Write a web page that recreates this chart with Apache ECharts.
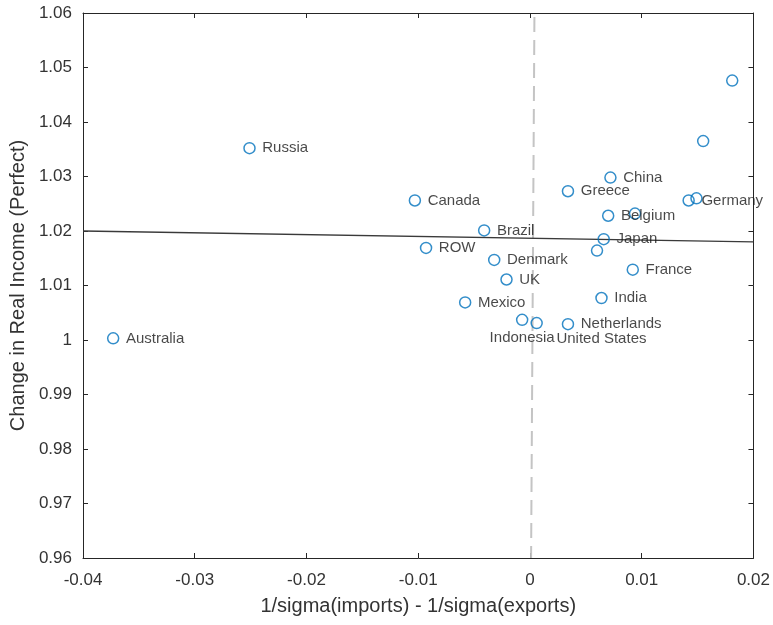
<!DOCTYPE html>
<html>
<head>
<meta charset="utf-8">
<script src="https://cdn.jsdelivr.net/npm/echarts@6/dist/echarts.min.js"></script>
<style>html,body{margin:0;padding:0;background:#fff}#c{width:773px;height:625px}</style>
</head>
<body>
<div id="c"></div>
<script>
// Data
const countryNames = ['Australia','Russia','Canada','Brazil','ROW','Denmark','UK','Mexico','Indonesia','United States','Netherlands','India','France','Japan','','Belgium','','Greece','China','Germany','','',''];
const sigmaDiff = [-0.0373,-0.0251,-0.0103,-0.0041,-0.0093,-0.0032,-0.0021,-0.0058,-0.0007,0.0006,0.0034,0.0064,0.0092,0.0066,0.0060,0.0070,0.0094,0.0034,0.0072,0.0142,0.0149,0.0155,0.0181];
const realIncome = [1.0003,1.0352,1.0256,1.0201,1.0169,1.0147,1.0111,1.0069,1.0037,1.0031,1.0029,1.0077,1.0129,1.0185,1.0164,1.0228,1.0232,1.0273,1.0298,1.0256,1.0260,1.0365,1.0476];
const fitX = [-0.04, 0.02];
const fitY = [1.0200, 1.0180];
const zeroLineX = [0.0004, 0.0001];
const zeroLineY = [1.06, 0.96];
const xTitle = '1/sigma(imports) - 1/sigma(exports)';
const yTitle = 'Change in Real Income (Perfect)';

const FONT = '"Liberation Sans", Arial, Helvetica, sans-serif';
const AX = '#262626';
const fmt = v => String(+(+v).toFixed(2));

const labelOverrides = {
  'Indonesia': { position: 'bottom', distance: 4, offset: [-2, 0] },
  'United States': { position: [26, 15], align: 'left', verticalAlign: 'top', offset: [0, 0] }
};

const pts = sigmaDiff.map((x, i) => {
  const item = { value: [x, realIncome[i], countryNames[i]] };
  if (labelOverrides[countryNames[i]]) item.label = labelOverrides[countryNames[i]];
  return item;
});

const baseX = {
  type: 'value', min: -0.04, max: 0.02, interval: 0.01,
  splitLine: { show: false },
  axisLine: { show: true, onZero: false, lineStyle: { color: AX, width: 1 } },
  axisTick: { show: true, inside: true, length: 5, lineStyle: { color: AX } }
};
const baseY = {
  type: 'value', min: 0.96, max: 1.06, interval: 0.01,
  splitLine: { show: false },
  axisLine: { show: true, onZero: false, lineStyle: { color: AX, width: 1 } },
  axisTick: { show: true, inside: true, length: 5, lineStyle: { color: AX } }
};

const chart = echarts.init(document.getElementById('c'));
chart.setOption({
  animation: false,
  backgroundColor: '#fff',
  grid: { left: 83, right: 19, top: 13, bottom: 67 },
  xAxis: [
    Object.assign({}, baseX, {
      position: 'bottom',
      axisLabel: { formatter: fmt, color: '#333', fontSize: 17, fontFamily: FONT, margin: 14 },
      name: xTitle, nameLocation: 'middle', nameGap: 38,
      nameTextStyle: { color: '#333', fontSize: 20, fontFamily: FONT }
    }),
    Object.assign({}, baseX, { position: 'top', axisLabel: { show: false } })
  ],
  yAxis: [
    Object.assign({}, baseY, {
      position: 'left',
      axisLabel: { formatter: fmt, color: '#333', fontSize: 17, fontFamily: FONT, margin: 11 },
      name: yTitle, nameLocation: 'middle', nameGap: 50,
      nameTextStyle: { color: '#333', fontSize: 20, fontFamily: FONT }
    }),
    Object.assign({}, baseY, { position: 'right', axisLabel: { show: false } })
  ],
  series: [
    {
      type: 'line', xAxisIndex: 0, yAxisIndex: 0,
      data: zeroLineX.map((x, i) => [x, zeroLineY[i]]),
      symbol: 'none', silent: true, z: 1,
      lineStyle: { color: '#c4c4c4', width: 2, type: [15, 8], dashOffset: -4 }
    },
    {
      type: 'line', xAxisIndex: 0, yAxisIndex: 0,
      data: fitX.map((x, i) => [x, fitY[i]]),
      symbol: 'none', silent: true, z: 2,
      lineStyle: { color: '#3a3a3a', width: 1.3 }
    },
    {
      type: 'scatter', xAxisIndex: 0, yAxisIndex: 0, z: 3,
      data: pts,
      symbol: 'circle', symbolSize: 11,
      itemStyle: { color: 'rgba(0,0,0,0)', borderColor: '#0072BD', borderWidth: 1.5 },
      label: {
        show: true, position: 'right', distance: 6.5, offset: [0, -2.5],
        formatter: p => p.value[2],
        color: '#1a1a1a', fontSize: 15, fontFamily: FONT
      },
      labelLayout: { hideOverlap: false }
    }
  ]
});
</script>
</body>
</html>
